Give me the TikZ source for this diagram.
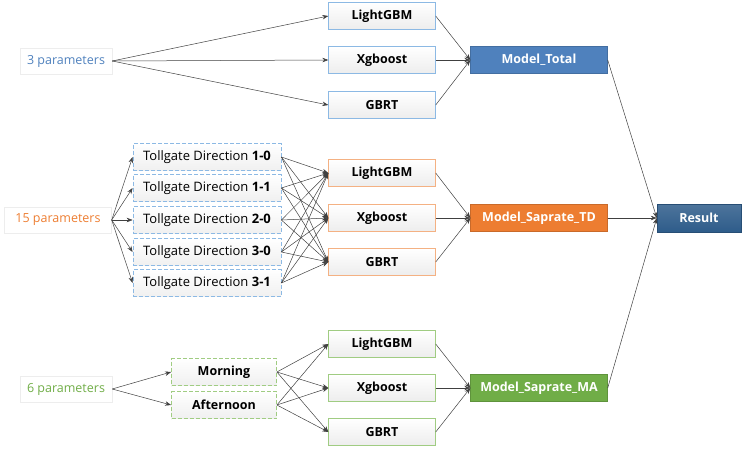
\documentclass[tikz,border=0pt]{standalone}
\usepackage{fontspec}
\setmainfont{Open Sans}
\usetikzlibrary{arrows.meta,positioning}

\definecolor{totalblue}{RGB}{79,129,189}
\definecolor{tdorange}{RGB}{237,125,49}
\definecolor{magreen}{RGB}{112,173,71}
\definecolor{resultblue}{RGB}{46,92,138}
\definecolor{lineblue}{RGB}{140,185,228}
\definecolor{lineorange}{RGB}{244,177,131}
\definecolor{linegreen}{RGB}{160,204,130}

\begin{document}
\begin{tikzpicture}[x=1pt, y=-1pt, font=\fontsize{12.5}{14}\selectfont,
  param/.style={draw=black!7, text=#1, minimum width=92pt, minimum height=26pt, inner sep=0pt},
  learner/.style={draw=#1, top color=white, bottom color=black!7, minimum width=107pt, minimum height=27pt, inner sep=0pt, font=\fontsize{12.5}{14}\selectfont\bfseries},
  splitbox/.style={draw=#1, line width=0.8pt, dash pattern=on 4pt off 2pt, top color=white, bottom color=black!6, minimum height=27pt, inner sep=0pt},
  merged/.style={fill=#1, draw=#1!85!black, text=white, minimum width=137pt, minimum height=27pt, inner sep=0pt, font=\fontsize{12.5}{14}\selectfont\bfseries},
  link/.style={draw=black!75, line width=0.5pt, -{Stealth[length=6pt, width=4.5pt]}}]
\useasboundingbox (0,0) rectangle (742,450);

\begin{scope} % FIRST ROW
\node [param=totalblue] (pA) at (66, 61) {3 parameters};
\node [learner=lineblue] (lgbA) at (382, 16) {LightGBM};
\node [learner=lineblue] (xgbA) at (382, 60) {Xgboost};
\node [learner=lineblue] (gbrtA) at (382, 105) {GBRT};
\node [merged=totalblue] (total) at (539, 60) {Model\_Total};

\foreach \m in {lgbA, xgbA, gbrtA} {
  \draw [link] (pA.east) -- (\m.west);
  \draw [link] (\m.east) -- (total.west);
}
\end{scope}

\begin{scope} % SECOND ROW
\node [param=tdorange, minimum width=107pt] (pB) at (58, 220) {15 parameters};
\foreach \d/\y [count=\i] in {1-0/157, 1-1/188, 2-0/220, 3-0/252, 3-1/283}
  \node [splitbox=lineblue, minimum width=148pt, font=\fontsize{13}{15}\selectfont] (td\i) at (207, \y) {Tollgate Direction \textbf{\d}};
\node [learner=lineorange] (lgbB) at (382, 173) {LightGBM};
\node [learner=lineorange] (xgbB) at (382, 218) {Xgboost};
\node [learner=lineorange] (gbrtB) at (382, 262) {GBRT};
\node [merged=tdorange] (saprateTD) at (539, 218) {Model\_Saprate\_TD};

\foreach \i in {1,...,5} {
  \draw [link] (pB.east) -- (td\i.west);
  \foreach \m in {lgbB, xgbB, gbrtB}
    \draw [link] (td\i.east) -- (\m.west);
}
\foreach \m in {lgbB, xgbB, gbrtB}
  \draw [link] (\m.east) -- (saprateTD.west);
\end{scope}

\begin{scope} % THIRD ROW
\node [param=magreen] (pC) at (66, 389) {6 parameters};
\node [splitbox=linegreen, minimum width=105pt, font=\fontsize{12.5}{14}\selectfont\bfseries] (morning) at (224, 372) {Morning};
\node [splitbox=linegreen, minimum width=105pt, font=\fontsize{12.5}{14}\selectfont\bfseries] (afternoon) at (224, 405) {Afternoon};
\node [learner=linegreen] (lgbC) at (382, 344) {LightGBM};
\node [learner=linegreen] (xgbC) at (382, 388) {Xgboost};
\node [learner=linegreen] (gbrtC) at (382, 432) {GBRT};
\node [merged=magreen] (saprateMA) at (539, 388) {Model\_Saprate\_MA};

\foreach \t in {morning, afternoon} {
  \draw [link] (pC.east) -- (\t.west);
  \foreach \m in {lgbC, xgbC, gbrtC}
    \draw [link] (\t.east) -- (\m.west);
}
\foreach \m in {lgbC, xgbC, gbrtC}
  \draw [link] (\m.east) -- (saprateMA.west);
\end{scope}

% result
\node [top color=resultblue!85!white, bottom color=resultblue, draw=resultblue!85!black, text=white, minimum width=84pt, minimum height=28pt, inner sep=0pt, font=\fontsize{12.5}{14}\selectfont\bfseries] (result) at (699, 218) {Result};
\foreach \m in {total, saprateTD, saprateMA}
  \draw [link] (\m.east) -- (result.west);
\end{tikzpicture}
\end{document}
